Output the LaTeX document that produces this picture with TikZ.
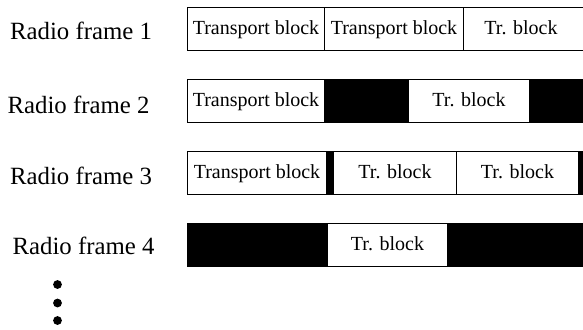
\documentclass[tikz,border=0pt]{standalone}
\usepackage{fontspec}
\setmainfont{Liberation Serif}
\usetikzlibrary{positioning}

\begin{document}
\begin{tikzpicture}[
			x=0.5pt, y=-0.5pt,
			every node/.style={inner sep=0pt},
			tb/.style={draw, line width=0.5pt, anchor=west, minimum height=21.5pt,
				text height=7pt, text depth=1.5pt, font=\fontsize{10}{12}\selectfont},
			dtx/.style={draw, fill=black, line width=0.5pt, anchor=west, minimum height=21.5pt},
			frame/.style={anchor=base, font=\fontsize{12.4}{14}\selectfont},
		]
		\clip (0,0) rectangle (583,329);

		% Radio frame 1
		\node[frame] (F1) at (81,39) {Radio frame 1};
		\node[tb, minimum width=68.5pt] (A1) at (187,28.5) {Transport block};
		\node[tb, minimum width=69.5pt] (A2) at (324,28.5) {Transport block};
		\node[tb, minimum width=75pt,
			label={[anchor=center, xshift=-8.75pt, text height=7pt, text depth=1.5pt,
				font=\fontsize{10}{12}\selectfont]center:Tr. block}] (A3) at (463,28.5) {};

		% Radio frame 2
		\node[frame] (F2) at (78.5,113) {Radio frame 2};
		\node[tb, minimum width=68.5pt] (B1) at (187,101) {Transport block};
		\node[dtx, minimum width=42pt] (B2) at (324,101) {};
		\node[tb, minimum width=60.5pt] (B3) at (408,101) {Tr. block};
		\node[dtx, minimum width=35pt] (B4) at (529,101) {};

		% Radio frame 3
		\node[frame] (F3) at (81,184) {Radio frame 3};
		\node[tb, minimum width=69.5pt] (C1) at (187,173) {Transport block};
		\node[dtx, minimum width=3.5pt] (C2) at (326,173) {};
		\node[tb, minimum width=61.5pt] (C3) at (333,173) {Tr. block};
		\node[tb, minimum width=61pt] (C4) at (456,173) {Tr. block};
		\node[dtx, minimum width=10pt] (C5) at (578,173) {};

		% Radio frame 4
		\node[frame] (F4) at (83.5,254) {Radio frame 4};
		\node[dtx, minimum width=70pt] (D1) at (187,245) {};
		\node[tb, minimum width=60pt] (D2) at (327,245) {Tr. block};
		\node[dtx, minimum width=75pt] (D3) at (447,245) {};

		% more frames
		\foreach \y in {284.5,303,320.5}
			\fill (57.5,\y) circle (2.2pt);
	\end{tikzpicture}
\end{document}
